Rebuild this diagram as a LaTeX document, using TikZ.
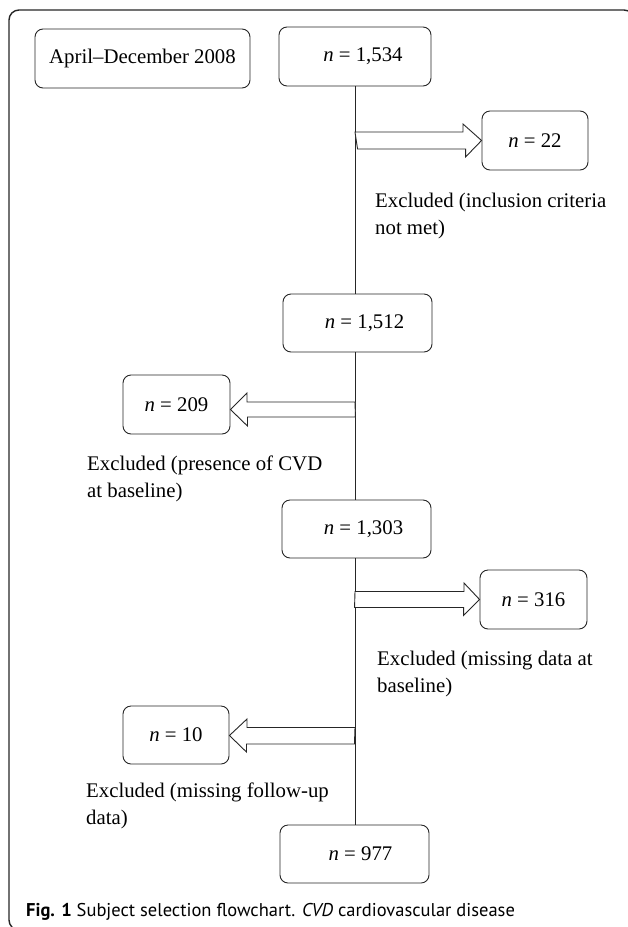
\documentclass[tikz,border=0pt]{standalone}
\usepackage{fontspec}
\setmainfont{Liberation Serif}
\newfontfamily\capfont{PT Sans}
\begin{document}
\begin{tikzpicture}[x=1pt,y=-1pt,
  box/.style={draw=black!85, line width=0.9pt, rounded corners=8pt, inner sep=0pt,
    font=\fontsize{20.8}{27}\selectfont},
  lbl/.style={anchor=base west, align=left, inner sep=0pt,
    font=\fontsize{20.8}{27}\selectfont},
  blockarrow/.style={draw=black!85, line width=0.9pt, fill=white, line join=miter},
  vline/.style={draw=black!85, line width=0.9pt}]
\useasboundingbox (0,0) rectangle (627,927);
% frame
\draw[line width=1.4pt, black!85, rounded corners=10pt] (9,10) rectangle (634,930);
% boxes
\node[box, minimum width=215pt, minimum height=59pt] (april) at (142.5,58.5) {April--December 2008};
\node[box, minimum width=152pt, minimum height=59pt] (b1534) at (355,56.5) {\hspace*{16pt}\textit{n} = 1,534};
\node[box, minimum width=106pt, minimum height=59pt] (b22) at (535,140.5) {\textit{n} = 22};
\node[box, minimum width=149pt, minimum height=58pt] (b1512) at (357.5,323) {\hspace*{14pt}\textit{n} = 1,512};
\node[box, minimum width=107pt, minimum height=59pt] (b209) at (176.5,404.5) {\textit{n} = 209};
\node[box, minimum width=149pt, minimum height=58pt] (b1303) at (356.5,529) {\hspace*{14pt}\textit{n} = 1,303};
\node[box, minimum width=107pt, minimum height=59pt] (b316) at (533.5,599.5) {\textit{n} = 316};
\node[box, minimum width=106pt, minimum height=58pt] (b10) at (176,735) {\textit{n} = 10};
\node[box, minimum width=149pt, minimum height=58pt] (b977) at (354.5,854) {\hspace*{12pt}\textit{n} = 977};
% vertical connectors
\draw[vline] (b1534.south -| 355,0) -- (b1512.north -| 355,0);
\draw[vline] (b1512.south -| 355,0) -- (b1303.north -| 355,0);
\draw[vline] (b1303.south -| 355,0) -- (b977.north -| 355,0);
% block arrows
\coordinate (a1) at (355,140.5);
\coordinate (a2) at (355,409.5);
\coordinate (a3) at (355,599.5);
\coordinate (a4) at (355,735.5);
\draw[blockarrow] (a1) ++(0,-8.5) -- ++(108,0) -- ++(0,-8) -- (b22.west) -- ++(-16,16.5) -- ++(0,-8) -- ++(-108,0) -- cycle;
\draw[blockarrow] (a2) ++(0,-7.5) -- ++(-108,0) -- ++(0,-9) -- (b209.east |- a2) -- ++(17,16.5) -- ++(0,-9) -- ++(108,0) -- cycle;
\draw[blockarrow] (a3) ++(0,-8) -- ++(109,0) -- ++(0,-8.5) -- (b316.west) -- ++(-16,16) -- ++(0,-8) -- ++(-109,0) -- cycle;
\draw[blockarrow] (a4) ++(0,-8) -- ++(-108,0) -- ++(0,-8.5) -- (b10.east |- a4) -- ++(17,16.5) -- ++(0,-8) -- ++(108,0) -- cycle;
% labels (base = baseline of the last line)
\node[lbl] (l1) at (375,234) {Excluded (inclusion criteria\\not met)};
\node[lbl] (l2) at (87,497.5) {Excluded (presence of CVD\\at baseline)};
\node[lbl] (l3) at (377,692) {Excluded (missing data at\\baseline)};
\node[lbl] (l4) at (86,824) {Excluded (missing follow-up\\data)};
% caption
\node[anchor=base west, inner sep=0pt, font=\capfont\fontsize{18.5}{20}\selectfont] (cap) at (26,916)
  {\textbf{Fig. 1} Subject selection flowchart. \textit{CVD} cardiovascular disease};
\end{tikzpicture}
\end{document}
